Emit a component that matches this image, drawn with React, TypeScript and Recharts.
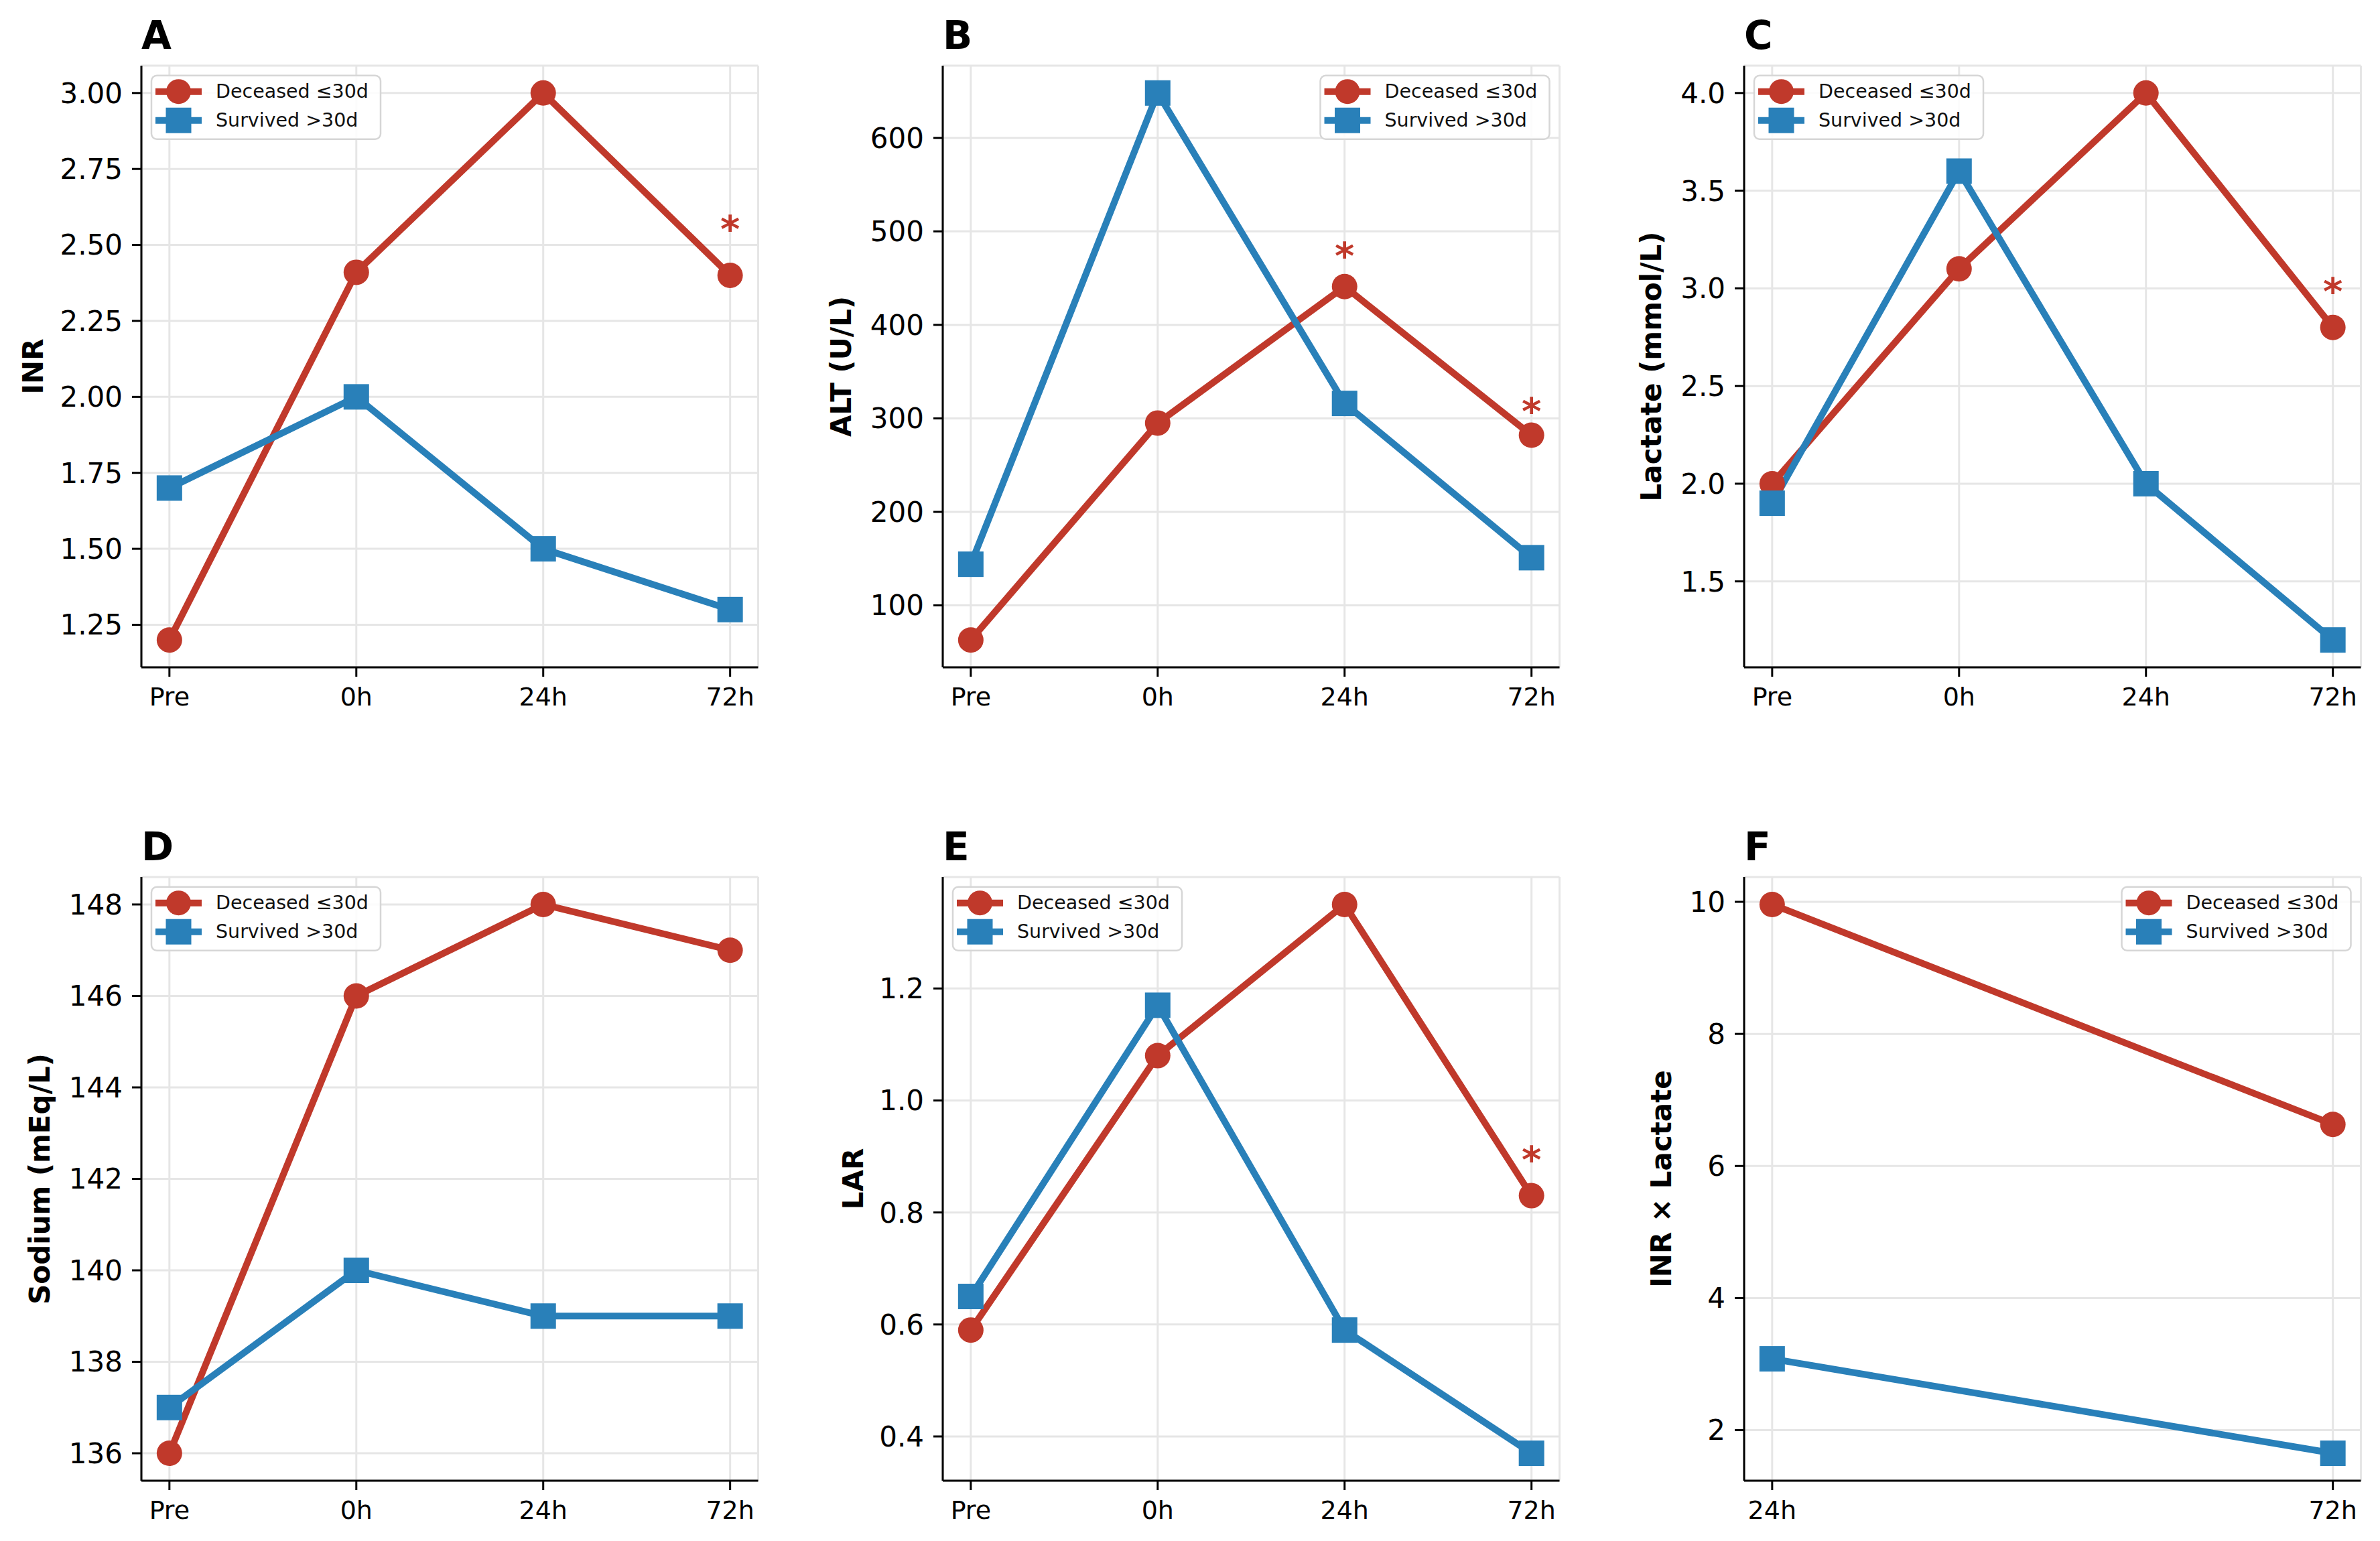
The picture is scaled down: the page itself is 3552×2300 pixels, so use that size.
import React from 'react';
import { LineChart, Line, XAxis, YAxis, CartesianGrid } from 'recharts';

const RED = '#c0392b';
const BLUE = '#2980b9';
const GRID = '#e6e6e6';
const FONT = '"DejaVu Sans", Verdana, sans-serif';

// categories
const timepoints = ['Pre', '0h', '24h', '72h'];
const lateTimepoints = ['24h', '72h'];

// A - INR
const inrDeceased = [1.2, 2.41, 3.0, 2.4];
const inrSurvived = [1.7, 2.0, 1.5, 1.3];
const inrStars = [null, null, null, 2.58];
const inrTicks = [1.25, 1.5, 1.75, 2.0, 2.25, 2.5, 2.75, 3.0];

// B - ALT
const altDeceased = [63, 295, 441, 282];
const altSurvived = [144, 648, 316, 151];
const altStars = [null, null, 483, 317];
const altTicks = [100, 200, 300, 400, 500, 600];

// C - Lactate
const lactateDeceased = [2.0, 3.1, 4.0, 2.8];
const lactateSurvived = [1.9, 3.6, 2.0, 1.2];
const lactateStars = [null, null, null, 3.03];
const lactateTicks = [1.5, 2.0, 2.5, 3.0, 3.5, 4.0];

// D - Sodium
const sodiumDeceased = [136, 146, 148, 147];
const sodiumSurvived = [137, 140, 139, 139];
const sodiumStars = [null, null, null, null];
const sodiumTicks = [136, 138, 140, 142, 144, 146, 148];

// E - LAR
const larDeceased = [0.59, 1.08, 1.35, 0.83];
const larSurvived = [0.65, 1.17, 0.59, 0.37];
const larStars = [null, null, null, 0.91];
const larTicks = [0.4, 0.6, 0.8, 1.0, 1.2];

// F - INR x Lactate
const productDeceased = [9.96, 6.63];
const productSurvived = [3.08, 1.65];
const productStars = [null, null];
const productTicks = [2, 4, 6, 8, 10];

const seriesNames = ['Deceased ≤30d', 'Survived >30d'];

// layout of the plot areas (page pixels)
const COL_LEFT = [210.5, 1406.6, 2602.5];
const ROW_TOP = [98, 1309];
const ROW_H = [898, 901];
const PLOT_W = 920.5;
const Y_W = 200;
const M_T = 80;
const M_R = 30;
const M_B = 10;
const X_H = 70;

interface PanelConfig {
  letter: string;
  yLabel: string;
  labelDist: number;
  categories: string[];
  deceased: number[];
  survived: number[];
  stars: (number | null)[];
  ticks: number[];
  decimals: number;
  legendSide: 'left' | 'right';
  col: number;
  row: number;
}

const panels: PanelConfig[] = [
  { letter: 'A', yLabel: 'INR', labelDist: 162, categories: timepoints, deceased: inrDeceased, survived: inrSurvived, stars: inrStars, ticks: inrTicks, decimals: 2, legendSide: 'left', col: 0, row: 0 },
  { letter: 'B', yLabel: 'ALT (U/L)', labelDist: 152, categories: timepoints, deceased: altDeceased, survived: altSurvived, stars: altStars, ticks: altTicks, decimals: 0, legendSide: 'right', col: 1, row: 0 },
  { letter: 'C', yLabel: 'Lactate (mmol/L)', labelDist: 139, categories: timepoints, deceased: lactateDeceased, survived: lactateSurvived, stars: lactateStars, ticks: lactateTicks, decimals: 1, legendSide: 'left', col: 2, row: 0 },
  { letter: 'D', yLabel: 'Sodium (mEq/L)', labelDist: 152, categories: timepoints, deceased: sodiumDeceased, survived: sodiumSurvived, stars: sodiumStars, ticks: sodiumTicks, decimals: 0, legendSide: 'left', col: 0, row: 1 },
  { letter: 'E', yLabel: 'LAR', labelDist: 134, categories: timepoints, deceased: larDeceased, survived: larSurvived, stars: larStars, ticks: larTicks, decimals: 1, legendSide: 'left', col: 1, row: 1 },
  { letter: 'F', yLabel: 'INR × Lactate', labelDist: 124, categories: lateTimepoints, deceased: productDeceased, survived: productSurvived, stars: productStars, ticks: productTicks, decimals: 0, legendSide: 'right', col: 2, row: 1 },
];

const renderCircle = (props: any) => {
  const { cx, cy, index } = props;
  if (cx == null || cy == null) return <g key={`c-${index}`} />;
  return <circle key={`c-${index}`} cx={cx} cy={cy} r={19} fill={RED} />;
};

const renderSquare = (props: any) => {
  const { cx, cy, index } = props;
  if (cx == null || cy == null) return <g key={`s-${index}`} />;
  return <rect key={`s-${index}`} x={cx - 19} y={cy - 19} width={38} height={38} fill={BLUE} />;
};

// significance marker, centred on the star value
const renderStar = (props: any) => {
  const { cx, cy, index } = props;
  if (cx == null || cy == null || Number.isNaN(cy)) return <g key={`t-${index}`} />;
  return (
    <text key={`t-${index}`} x={cx} y={cy + 32} textAnchor="middle" fontSize={56} fontWeight="bold" fontFamily={FONT} fill={RED}>
      *
    </text>
  );
};

const Legend = ({ x, y }: { x: number; y: number }) => (
  <g transform={`translate(${x}, ${y})`}>
    <rect x={0} y={0} width={342} height={95} rx={8} fill="rgba(255,255,255,0.85)" stroke="#d6d6d6" strokeWidth={2.5} />
    <line x1={6} x2={75} y1={24} y2={24} stroke={RED} strokeWidth={10} />
    <circle cx={40.5} cy={24} r={18.5} fill={RED} />
    <text x={96} y={24} dominantBaseline="central" fontSize={28.5} fontFamily={FONT} fill="#111">{seriesNames[0]}</text>
    <line x1={6} x2={75} y1={67} y2={67} stroke={BLUE} strokeWidth={10} />
    <rect x={21.5} y={48} width={38} height={38} fill={BLUE} />
    <text x={96} y={67} dominantBaseline="central" fontSize={28.5} fontFamily={FONT} fill="#111">{seriesNames[1]}</text>
  </g>
);

const Panel = ({ cfg }: { cfg: PanelConfig }) => {
  const left = COL_LEFT[cfg.col];
  const top = ROW_TOP[cfg.row];
  const h = ROW_H[cfg.row];
  const n = cfg.categories.length;
  const rows = cfg.categories.map((c, i) => ({
    x: i,
    name: c,
    deceased: cfg.deceased[i],
    survived: cfg.survived[i],
    star: cfg.stars[i],
  }));

  // matplotlib-style 5% margins
  const xPad = 0.05 * (n - 1);
  const all = [...cfg.deceased, ...cfg.survived];
  const lo = Math.min(...all);
  const hi = Math.max(...all);
  const yPad = 0.05 * (hi - lo);

  const width = Y_W + PLOT_W + M_R;
  const height = M_T + h + X_H + M_B;
  const legendX = cfg.legendSide === 'left' ? Y_W + 15 : Y_W + PLOT_W - 15 - 342;

  return (
    <div style={{ position: 'absolute', left: left - Y_W, top: top - M_T, width, height }}>
      <LineChart width={width} height={height} data={rows} margin={{ top: M_T, right: M_R, bottom: M_B, left: 0 }}>
        <CartesianGrid stroke={GRID} strokeWidth={3} fill="none" />
        <XAxis
          type="number"
          dataKey="x"
          domain={[-xPad, n - 1 + xPad]}
          ticks={cfg.categories.map((_, i) => i)}
          tickFormatter={(v: number) => cfg.categories[Math.round(v)]}
          allowDataOverflow
          interval={0}
          height={X_H}
          axisLine={{ stroke: '#000', strokeWidth: 3 }}
          tickLine={{ stroke: '#000', strokeWidth: 3 }}
          tickSize={14}
          tickMargin={16}
          tick={{ fill: '#000', fontSize: 38, fontFamily: FONT }}
        />
        <YAxis
          type="number"
          domain={[lo - yPad, hi + yPad]}
          ticks={cfg.ticks}
          tickFormatter={(v: number) => v.toFixed(cfg.decimals)}
          allowDataOverflow
          interval={0}
          width={Y_W}
          axisLine={{ stroke: '#000', strokeWidth: 3 }}
          tickLine={{ stroke: '#000', strokeWidth: 3 }}
          tickSize={14}
          tickMargin={14}
          tick={{ fill: '#000', fontSize: 42, fontFamily: FONT }}
        />
        <Line
          type="linear"
          dataKey="deceased"
          stroke={RED}
          strokeWidth={10}
          strokeLinejoin="round"
          dot={renderCircle}
          activeDot={false}
          isAnimationActive={false}
        />
        <Line
          type="linear"
          dataKey="survived"
          stroke={BLUE}
          strokeWidth={10}
          strokeLinejoin="round"
          dot={renderSquare}
          activeDot={false}
          isAnimationActive={false}
        />
        <Line
          type="linear"
          dataKey="star"
          stroke="none"
          dot={renderStar}
          activeDot={false}
          isAnimationActive={false}
        />
      </LineChart>
      <svg
        width={width}
        height={height}
        style={{ position: 'absolute', left: 0, top: 0, overflow: 'visible', pointerEvents: 'none' }}
      >
        <text x={Y_W} y={M_T - 25} fontSize={58} fontWeight="bold" fontFamily={FONT} fill="#000">
          {cfg.letter}
        </text>
        <text
          transform={`translate(${Y_W - cfg.labelDist}, ${M_T + h / 2}) rotate(-90)`}
          textAnchor="middle"
          dominantBaseline="central"
          fontSize={42}
          fontWeight="bold"
          fontFamily={FONT}
          fill="#000"
        >
          {cfg.yLabel}
        </text>
        <Legend x={legendX} y={M_T + 14.7} />
      </svg>
    </div>
  );
};

export default function App() {
  return (
    <div style={{ position: 'absolute', left: 0, top: 0, width: 3552, height: 2300, background: '#fff', fontFamily: FONT }}>
      {panels.map((p) => (
        <Panel key={p.letter} cfg={p} />
      ))}
    </div>
  );
}
